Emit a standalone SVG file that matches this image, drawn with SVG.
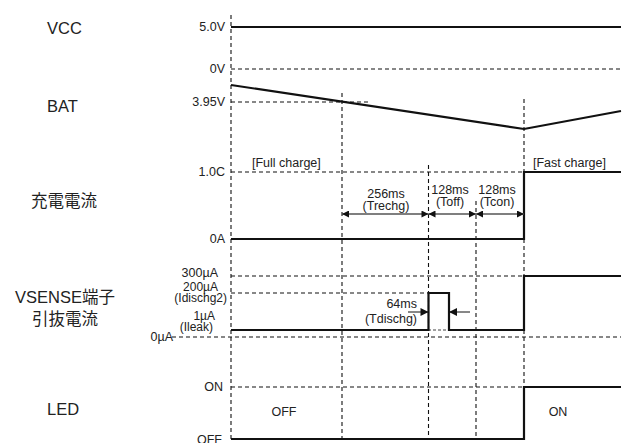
<svg xmlns="http://www.w3.org/2000/svg" width="622" height="443" viewBox="0 0 622 443">
<defs>
<style>
text{font-family:"Liberation Sans","Noto Sans CJK JP",Arial,sans-serif;fill:#222}
.big{font-size:16.5px}
.cjk{font-size:16.5px}
.ax{font-size:12.5px;text-anchor:end}
.sm{font-size:12.5px}
.xs{font-size:12px}
.dash{stroke:#111;stroke-width:1.1;stroke-dasharray:4 3;fill:none}
.sig{stroke:#111;stroke-width:2.2;fill:none}
.dim{stroke:#555;stroke-width:1.5;fill:none}
</style>
<marker id="ah" viewBox="0 0 10 10" refX="10" refY="5" markerWidth="8" markerHeight="7" markerUnits="userSpaceOnUse" orient="auto-start-reverse">
<path d="M0,0 L10,5 L0,10 Z" fill="#111"/>
</marker>
<marker id="ah2" viewBox="0 0 10 10" refX="10" refY="5" markerWidth="9" markerHeight="8" markerUnits="userSpaceOnUse" orient="auto">
<path d="M0,0 L10,5 L0,10 Z" fill="#111"/>
</marker>
</defs>

<g id="labels">
<text class="big" x="47" y="34">VCC</text>
<text class="big" x="47" y="112">BAT</text>
<text class="cjk" x="31" y="207">充電電流</text>
<text class="cjk" x="65" y="303" text-anchor="middle">VSENSE端子</text>
<text class="cjk" x="65" y="325" text-anchor="middle">引抜電流</text>
<text class="big" x="47" y="415">LED</text>
</g>

<g id="axis-labels">
<text class="ax" x="225" y="31">5.0V</text>
<text class="ax" x="225" y="73">0V</text>
<text class="ax" x="225" y="106">3.95V</text>
<text class="ax" x="225" y="176">1.0C</text>
<text class="ax" x="225" y="243">0A</text>
<text class="ax" x="218" y="277">300µA</text>
<text class="ax xs" x="218" y="291">200µA</text>
<text class="ax xs" x="227" y="302">(Idischg2)</text>
<text class="ax xs" x="215" y="320">1µA</text>
<text class="ax xs" x="213" y="331">(Ileak)</text>
<text class="ax" x="173" y="341">0µA</text>
<text class="ax" x="223" y="391">ON</text>
<text class="ax" x="222" y="444">OFF</text>
</g>

<g id="grid">
<line class="dash" x1="231" y1="15" x2="231" y2="439"/>
<line class="dash" x1="342" y1="93" x2="342" y2="439"/>
<line class="dash" x1="428.5" y1="165" x2="428.5" y2="439"/>
<line class="dash" x1="476" y1="201" x2="476" y2="439"/>
<line class="dash" x1="524" y1="99" x2="524" y2="439"/>
<line class="dash" x1="231" y1="69" x2="621" y2="69"/>
<line class="dash" x1="231" y1="102" x2="368" y2="102"/>
<line class="dash" x1="231" y1="172" x2="524" y2="172"/>
<line class="dash" x1="231" y1="276" x2="524" y2="276"/>
<line class="dash" x1="231" y1="293" x2="428" y2="293"/>
<line class="dash" x1="428" y1="330" x2="449" y2="330" style="stroke-width:0.8;stroke-dasharray:3 2"/>
<line class="dash" x1="172" y1="337" x2="621" y2="337"/>
<line class="dash" x1="231" y1="387" x2="524" y2="387"/>
</g>

<g id="signals">
<polyline id="vcc" class="sig" points="231,27 621,27"/>
<polyline id="bat" class="sig" points="231,85 524,129 621,111"/>
<polyline id="charge" class="sig" points="231,239 524,239 524,172 621,172"/>
<polyline id="vsense" class="sig" points="231,330 428.5,330 428.5,293 449,293 449,330 524,330 524,276 621,276"/>
<polyline id="led" class="sig" points="231,439 524,439 524,387 621,387"/>
</g>

<g id="connectors">
<line class="dim" x1="342" y1="214" x2="428.5" y2="214" marker-start="url(#ah)" marker-end="url(#ah)"/>
<line class="dim" x1="428.5" y1="214" x2="476" y2="214" marker-start="url(#ah)" marker-end="url(#ah)"/>
<line class="dim" x1="476" y1="214" x2="524" y2="214" marker-start="url(#ah)" marker-end="url(#ah)"/>
<line stroke="#111" stroke-width="1" x1="408" y1="312" x2="428.5" y2="312" marker-end="url(#ah2)"/>
<line stroke="#111" stroke-width="1" x1="470" y1="312" x2="449" y2="312" marker-end="url(#ah2)"/>
</g>

<g id="annotations">
<text class="sm" x="252" y="167">[Full charge]</text>
<text class="sm" x="533" y="167">[Fast charge]</text>
<text class="sm" x="386" y="198" text-anchor="middle">256ms</text>
<text class="sm" x="386" y="210" text-anchor="middle">(Trechg)</text>
<text class="sm" x="450" y="194" text-anchor="middle">128ms</text>
<text class="sm" x="450" y="206" text-anchor="middle">(Toff)</text>
<text class="sm" x="497" y="194" text-anchor="middle">128ms</text>
<text class="sm" x="497" y="206" text-anchor="middle">(Tcon)</text>
<text class="sm" x="417" y="308" text-anchor="end">64ms</text>
<text class="sm" x="417" y="323" text-anchor="end">(Tdischg)</text>
<text class="sm" x="284" y="416" text-anchor="middle">OFF</text>
<text class="sm" x="558" y="416" text-anchor="middle">ON</text>
</g>
</svg>
